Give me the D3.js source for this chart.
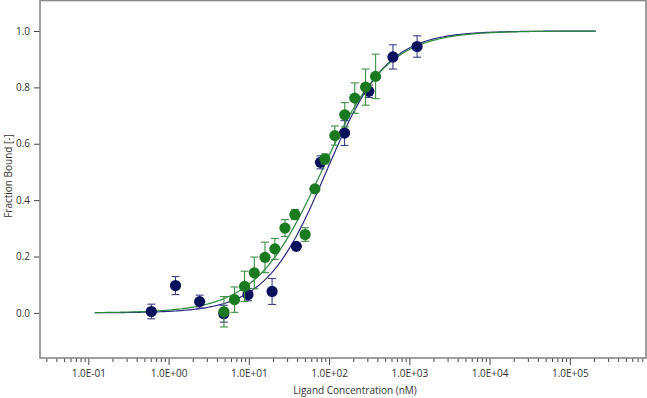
<!DOCTYPE html>
<html><head><meta charset="utf-8">
<script src="https://cdn.jsdelivr.net/npm/d3@7"></script>
<style>
html,body{margin:0;padding:0;background:#fff;}
svg{display:block;}
text{font-family:"Open Sans","Noto Sans",sans-serif;fill:#333;}
</style></head>
<body>
<svg id="chart" width="647" height="398"></svg>
<script>
// Data
const blueConc = [0.61, 1.22, 2.44, 4.88, 9.77, 19.5, 39.1, 78.1, 156, 313, 625, 1250];
const blueVal  = [0.005, 0.097, 0.040, -0.003, 0.065, 0.076, 0.236, 0.534, 0.638, 0.786, 0.908, 0.945];
const blueErr  = [0.026, 0.032, 0.023, 0.030, 0.022, 0.046, 0.005, 0.023, 0.044, 0.022, 0.043, 0.038];

const greenConc = [4.9, 6.64, 8.85, 11.7, 15.9, 21.1, 28.2, 37.5, 50.3, 66.6, 88.7, 118, 157, 209, 285, 380];
const greenVal  = [0.004, 0.047, 0.094, 0.142, 0.197, 0.227, 0.301, 0.349, 0.278, 0.440, 0.546, 0.629, 0.703, 0.762, 0.801, 0.839];
const greenErr  = [0.054, 0.045, 0.054, 0.056, 0.054, 0.037, 0.030, 0.018, 0.024, 0.008, 0.018, 0.034, 0.043, 0.054, 0.064, 0.079];

// Fit parameters (Hill model)
const blueFit  = {kd: 92, n: 1.15};
const greenFit = {kd: 80, n: 1.05};
const fitRange = [0.12, 2.1e5];

const xMajorTicks = [1e-1, 1e0, 1e1, 1e2, 1e3, 1e4, 1e5];
const yTicks = [0.0, 0.2, 0.4, 0.6, 0.8, 1.0];

const xTitle = "Ligand Concentration (nM)";
const yTitle = "Fraction Bound [-]";

const colBlue = "#0a115c", colBlueBar = "#3b3f8c";
const colGreen = "#1b7a1f", colGreenBar = "#3f8f45";

const svg = d3.select("#chart");
const L = 40, R = 646, T = 0.5, B = 358;
const x = d3.scaleLog().domain([0.025, 8.9e5]).range([L, R]);
const y = d3.scaleLinear().domain([-0.16, 1.11]).range([B, 0]);

// minor ticks
const minor = [];
for (let e = -2; e <= 5; e++) for (let m = 2; m <= 9; m++) {
  const v = m * Math.pow(10, e);
  if (v > 0.025 && v < 8.9e5) minor.push(v);
}
const fmtE = d => { const e = Math.round(Math.log10(d)); return "1.0E" + (e < 0 ? "-" : "+") + String(Math.abs(e)).padStart(2, "0"); };

const gxMinor = svg.append("g").attr("transform", `translate(0,${B})`)
  .call(d3.axisBottom(x).tickValues(minor).tickSize(4).tickFormat(""));
const gxMajor = svg.append("g").attr("transform", `translate(0,${B})`)
  .call(d3.axisBottom(x).tickValues(xMajorTicks).tickSize(7).tickPadding(5).tickFormat(fmtE));
[gxMinor, gxMajor].forEach(g => { g.select(".domain").remove(); g.selectAll("line").attr("stroke", "#444"); });
gxMajor.selectAll("text").style("font-size", "10px").attr("fill", "#333");

const gy = svg.append("g").attr("transform", `translate(${L},0)`)
  .call(d3.axisLeft(y).tickValues(yTicks).tickSize(6).tickPadding(4).tickFormat(d3.format(".1f")));
gy.select(".domain").remove();
gy.selectAll("line").attr("stroke", "#444");
gy.selectAll("text").style("font-size", "10px").attr("fill", "#333");

// frame
svg.append("rect").attr("x", L).attr("y", T).attr("width", R - L).attr("height", B - T)
  .attr("fill", "none").attr("stroke", "#888").attr("stroke-width", 1.6);

// titles
svg.append("text").attr("x", 355).attr("y", 394).attr("text-anchor", "middle")
  .style("font-size", "10px").text(xTitle);
svg.append("text").attr("transform", "translate(12,176) rotate(-90)").attr("text-anchor", "middle")
  .style("font-size", "10px").text(yTitle);

// fit curves
const hill = p => c => Math.pow(c, p.n) / (Math.pow(p.kd, p.n) + Math.pow(c, p.n));
const grid = d3.range(0, 301).map(i => Math.pow(10, Math.log10(fitRange[0]) + i / 300 * (Math.log10(fitRange[1]) - Math.log10(fitRange[0]))));
const line = f => d3.line().x(c => x(c)).y(c => y(f(c)))(grid);
svg.append("path").attr("d", line(hill(blueFit))).attr("fill", "none").attr("stroke", "#2a2a86").attr("stroke-width", 1.2);
svg.append("path").attr("d", line(hill(greenFit))).attr("fill", "none").attr("stroke", "#2a8a3a").attr("stroke-width", 1.2);

function drawSeries(conc, val, err, col, barCol) {
  const g = svg.append("g");
  const d = conc.map((c, i) => ({c, v: val[i], e: err[i]}));
  const eb = g.selectAll("g.eb").data(d).enter().append("g").attr("stroke", barCol).attr("stroke-width", 1.1);
  eb.append("line").attr("x1", p => x(p.c)).attr("x2", p => x(p.c)).attr("y1", p => y(p.v - p.e)).attr("y2", p => y(p.v + p.e));
  eb.append("line").attr("x1", p => x(p.c) - 4).attr("x2", p => x(p.c) + 4).attr("y1", p => y(p.v + p.e)).attr("y2", p => y(p.v + p.e));
  eb.append("line").attr("x1", p => x(p.c) - 4).attr("x2", p => x(p.c) + 4).attr("y1", p => y(p.v - p.e)).attr("y2", p => y(p.v - p.e));
  g.selectAll("circle").data(d).enter().append("circle")
    .attr("cx", p => x(p.c)).attr("cy", p => y(p.v)).attr("r", 5.6).attr("fill", col);
}
drawSeries(blueConc, blueVal, blueErr, colBlue, colBlueBar);
drawSeries(greenConc, greenVal, greenErr, colGreen, colGreenBar);
</script>
</body></html>
